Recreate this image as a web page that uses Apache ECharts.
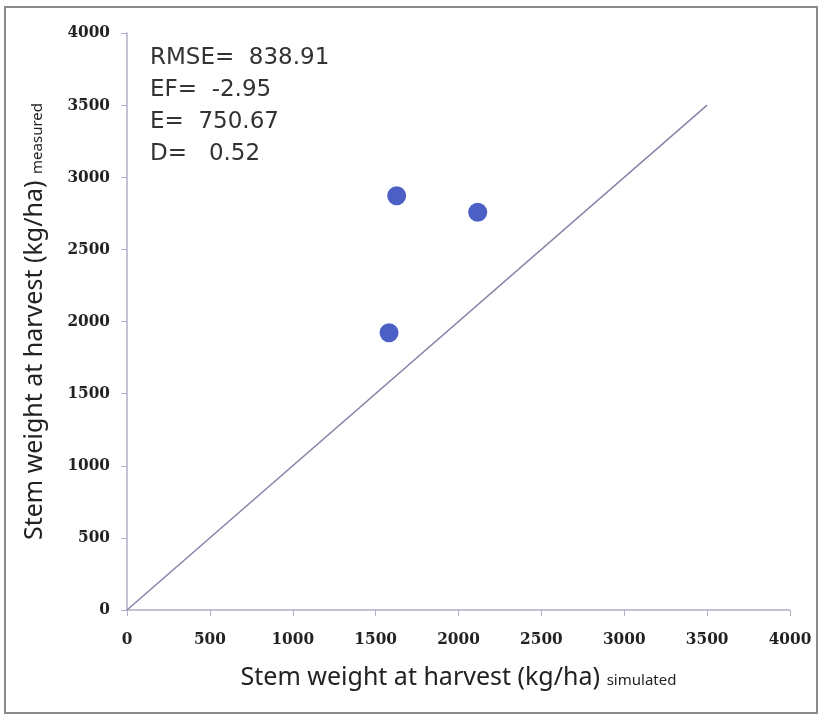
<!DOCTYPE html>
<html>
<head>
<meta charset="utf-8">
<script src="https://cdn.jsdelivr.net/npm/echarts@6/dist/echarts.min.js"></script>
<style>
  html, body { margin: 0; padding: 0; background: #fff; }
  #main { width: 820px; height: 717px; }
</style>
</head>
<body>
<div id="main"></div>
<script>
// simulated vs measured stem weight (kg/ha)
const simulated = [1627, 2116, 1581];
const measured = [2872, 2757, 1922];
// 1:1 line
const lineX = [0, 3500];
const lineY = [0, 3500];
const axisTicks = [0, 500, 1000, 1500, 2000, 2500, 3000, 3500, 4000];
const statLines = ['RMSE=  838.91', 'EF=  -2.95', 'E=  750.67', 'D=   0.52'];

const myChart = echarts.init(document.getElementById('main'));

const axisColor = '#b4acc8';
const labelStyle = {
    color: '#222',
    fontFamily: 'DejaVu Serif Condensed, Liberation Serif, serif',
    fontWeight: 'bold',
    fontSize: 17,
    formatter: v => String(v)
};

const option = {
    backgroundColor: '#fff',
    animation: false,
    grid: {
        left: 127,
        right: 30,
        top: 33,
        bottom: 107
    },
    xAxis: {
        type: 'value',
        min: axisTicks[0],
        max: axisTicks[axisTicks.length - 1],
        interval: 500,
        axisLine: { show: true, lineStyle: { color: axisColor, width: 1.5 } },
        axisTick: { show: true, length: 6, lineStyle: { color: axisColor } },
        splitLine: { show: false },
        axisLabel: Object.assign({ margin: 21 }, labelStyle),
        name: '{a|Stem weight at harvest (kg/ha)}  {b|simulated}',
        nameLocation: 'middle',
        nameGap: 55,
        nameTextStyle: {
            rich: {
                a: { fontFamily: 'Noto Sans', fontSize: 25, color: '#222' },
                b: { fontFamily: 'Noto Sans', fontSize: 15, color: '#222', padding: [6, 0, 0, 0] }
            }
        }
    },
    yAxis: {
        type: 'value',
        min: axisTicks[0],
        max: axisTicks[axisTicks.length - 1],
        interval: 500,
        axisLine: { show: true, lineStyle: { color: axisColor, width: 1.5 } },
        axisTick: { show: true, length: 6, lineStyle: { color: axisColor } },
        splitLine: { show: false },
        axisLabel: Object.assign({ margin: 17 }, labelStyle),
        name: '{a|Stem weight at harvest (kg/ha)}  {b|measured}',
        nameLocation: 'middle',
        nameRotate: 90,
        nameGap: 80,
        nameTextStyle: {
            rich: {
                a: { fontFamily: 'Noto Sans', fontSize: 25, color: '#222' },
                b: { fontFamily: 'Noto Sans', fontSize: 15, color: '#222', padding: [6, 0, 0, 0] }
            }
        }
    },
    graphic: [
        {
            type: 'rect',
            shape: { x: 5, y: 7, width: 812, height: 706 },
            style: { fill: 'none', stroke: '#8a8a8a', lineWidth: 2 },
            silent: true
        },
        {
            type: 'text',
            left: 150,
            top: 42,
            style: {
                text: statLines.join('\n'),
                fontFamily: 'DejaVu Sans',
                fontSize: 23,
                lineHeight: 32,
                fill: '#333'
            }
        }
    ],
    series: [
        {
            name: '1:1',
            type: 'line',
            data: lineX.map((x, i) => [x, lineY[i]]),
            showSymbol: false,
            lineStyle: { color: '#8c82a8', width: 1.5 },
            silent: true
        },
        {
            name: 'observed',
            type: 'scatter',
            data: simulated.map((x, i) => [x, measured[i]]),
            symbolSize: 19,
            itemStyle: { color: '#4b5fc4', opacity: 1 }
        }
    ]
};

myChart.setOption(option);
window.addEventListener('resize', () => {
    myChart.resize();
});
</script>
</body>
</html>
